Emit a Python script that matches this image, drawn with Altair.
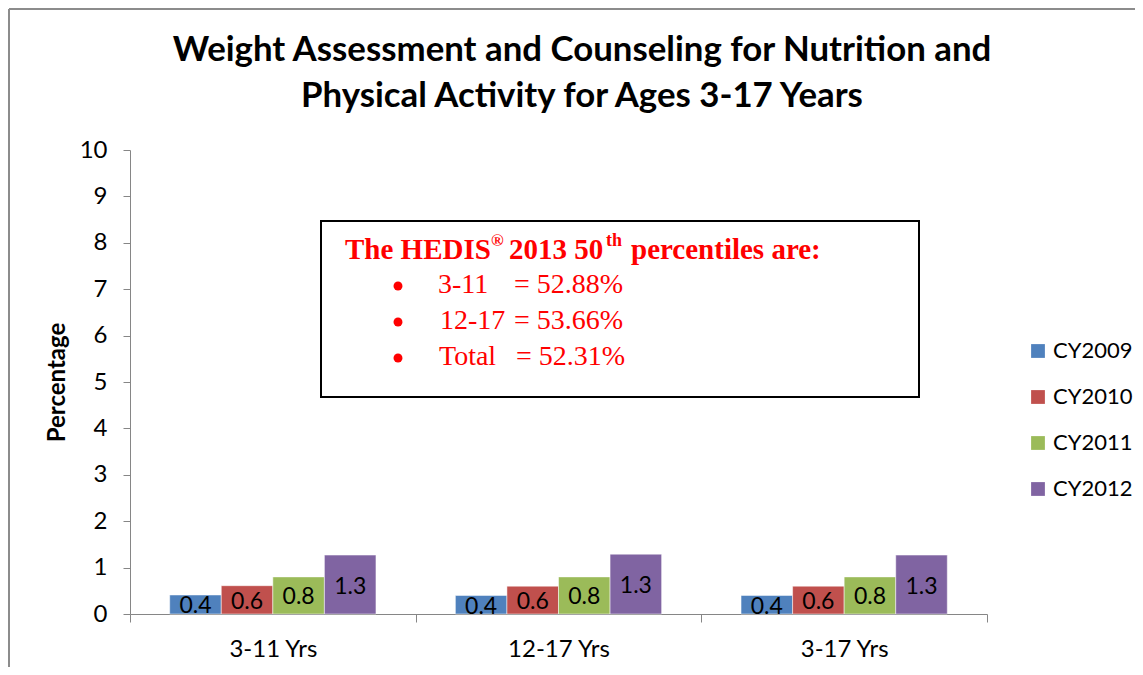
import altair as alt
import pandas as pd

groups = ["3-11 Yrs", "12-17 Yrs", "3-17 Yrs"]
series = ["CY2009", "CY2010", "CY2011", "CY2012"]
values_3_11 = [0.41, 0.61, 0.80, 1.27]
values_12_17 = [0.40, 0.60, 0.80, 1.29]
values_3_17 = [0.40, 0.60, 0.80, 1.27]
colors = ["#4F81BD", "#C0504D", "#9BBB59", "#8064A2"]

title_lines = ["Weight Assessment and Counseling for Nutrition and",
               "Physical Activity for Ages 3-17 Years"]

rows = []
for g, vals in zip(groups, [values_3_11, values_12_17, values_3_17]):
    for s, v in zip(series, vals):
        rows.append({"group": g, "series": s, "value": v})
df = pd.DataFrame(rows)
one = pd.DataFrame({"k": [0]})

W, H = 857, 464
SANS = "Lato"
SERIF = "Liberation Serif"
RED = "#FF0000"
GREY = "#868686"

x_enc = alt.X("group:N", sort=groups, title=None,
              scale=alt.Scale(paddingInner=0, paddingOuter=0),
              axis=alt.Axis(labelAngle=0, tickBand="extent", tickSize=8,
                            labelPadding=15, labelFontSize=24, labelFont=SANS,
                            labelColor="#000000", domainColor=GREY, tickColor=GREY))
xo_enc = alt.XOffset("series:N", sort=series,
                     scale=alt.Scale(paddingOuter=0.77, paddingInner=0))
y_enc = alt.Y("value:Q", scale=alt.Scale(domain=[0, 10], nice=False),
              axis=alt.Axis(values=list(range(11)), grid=False, tickSize=7,
                            labelPadding=16, labelFontSize=24, labelFont=SANS,
                            labelColor="#000000", domainColor=GREY, tickColor=GREY,
                            title="Percentage", titleFont=SANS, titleFontSize=24,
                            titleFontWeight="bold", titleColor="#000000",
                            titleX=-73, titleY=H / 2, titleAngle=-90,
                            titleBaseline="middle"))

bars = alt.Chart(df).mark_bar(stroke="white", strokeWidth=0.5).encode(
    x=x_enc, xOffset=xo_enc, y=y_enc,
    color=alt.Color("series:N", sort=series,
                    scale=alt.Scale(domain=series, range=colors),
                    legend=alt.Legend(title=None, orient="none", legendX=897,
                                      legendY=190, symbolType="square",
                                      symbolSize=190, symbolStrokeWidth=0,
                                      labelFont=SANS, labelFontSize=22,
                                      labelColor="#000000", labelOffset=4,
                                      rowPadding=24)),
)

labels = alt.Chart(df).transform_calculate(mid="datum.value / 2").mark_text(
    font=SANS, fontSize=23, color="#000000", baseline="middle", dy=2
).encode(
    x=alt.X("group:N", sort=groups), xOffset=alt.XOffset("series:N", sort=series),
    y=alt.Y("mid:Q"), text=alt.Text("value:Q", format=".1f"),
)

# outer chart frame (left and top edges)
frame_top = alt.Chart(one).mark_rule(color="#8C8C8C", strokeWidth=2).encode(
    x=alt.value(-121), x2=alt.value(W + 150), y=alt.value(-141))
frame_left = alt.Chart(one).mark_rule(color="#8C8C8C", strokeWidth=2).encode(
    x=alt.value(-121), y=alt.value(-141), y2=alt.value(H + 60))

# chart title (two centred lines)
title1 = alt.Chart(one).mark_text(
    text=title_lines[0], font=SANS, fontSize=34.8, fontWeight="bold",
    color="#000000", align="center", baseline="alphabetic"
).encode(x=alt.value(452), y=alt.value(-89))
title2 = alt.Chart(one).mark_text(
    text=title_lines[1], font=SANS, fontSize=34.8, fontWeight="bold",
    color="#000000", align="center", baseline="alphabetic"
).encode(x=alt.value(452), y=alt.value(-43))

box = alt.Chart(one).mark_rect(fill="white", stroke="#000000", strokeWidth=2).encode(
    x=alt.value(191), x2=alt.value(789), y=alt.value(71), y2=alt.value(247))


def note(txt, x, y, size, bold=False, align="left"):
    return alt.Chart(one).mark_text(
        text=txt, font=SERIF, fontSize=size, color=RED, align=align,
        baseline="alphabetic", fontWeight="bold" if bold else "normal"
    ).encode(x=alt.value(x), y=alt.value(y))


bullets = [
    alt.Chart(one).mark_circle(color=RED, opacity=1, size=80).encode(
        x=alt.value(268), y=alt.value(yy))
    for yy in (136, 172, 208)
]

notes = [
    note("The HEDIS", 215, 109, 29, True),
    note("®", 361, 96, 17, True),
    note("2013 50", 379, 109, 29, True),
    note("th", 476, 96, 18, True),
    note("percentiles are:", 501, 109, 29, True),
    note("3-11", 308, 143, 28),
    note("12-17", 310, 179, 28),
    note("Total", 309, 215, 28),
    note("= 52.88%", 384, 143, 28),
    note("= 53.66%", 384, 179, 28),
    note("= 52.31%", 386, 215, 28),
]

chart = alt.layer(frame_top, frame_left, title1, title2, bars, labels, box,
                  *bullets, *notes).properties(
    width=W, height=H,
    autosize=alt.AutoSizeParams(type="none"),
    padding={"left": 122, "top": 142, "right": 148, "bottom": 53},
).configure_view(strokeWidth=0)

chart.save("out.html", embed_options={"renderer": "svg", "actions": False})
